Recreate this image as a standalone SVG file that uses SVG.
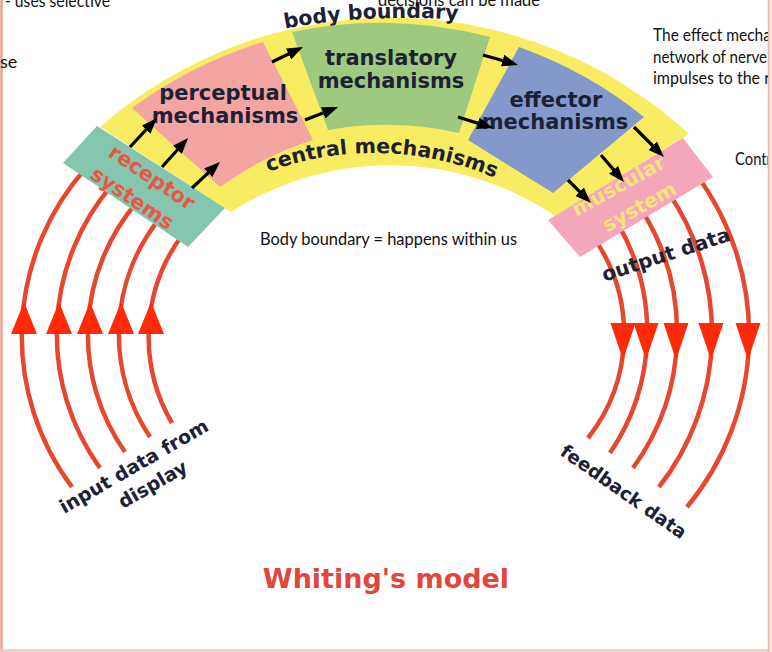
<svg xmlns="http://www.w3.org/2000/svg" width="772" height="652" viewBox="0 0 772 652">
<defs>
<style>
.blk{font-family:"DejaVu Sans",Verdana,sans-serif;font-weight:bold;}
.lbl{fill:#1d2135;font-size:21px;text-anchor:middle;}
.note{font-family:Lato,"Liberation Sans",sans-serif;font-size:18px;fill:#111;}
.curve{fill:none;stroke:#e5482f;stroke-width:4.5;}
.rhead{fill:#ff2a0a;}
.arr{stroke:#000;stroke-width:3.2;fill:none;marker-end:url(#ah);}
</style>
<marker id="ah" markerUnits="userSpaceOnUse" viewBox="0 0 16 12" markerWidth="16" markerHeight="12" refX="8" refY="6" orient="auto"><path d="M0,0 L16,6 L0,12 z" fill="#000"/></marker>
<clipPath id="clipR"><rect x="0" y="0" width="768" height="652"/></clipPath>
<path id="pBody" d="M 283 29 Q 372 12 472 21"/>
<path id="pCentral" d="M 177.3 224.6 A 306 306 0 0 1 570.7 224.6"/>
</defs>
<rect x="0" y="0" width="772" height="652" fill="#fff"/>
<g id="frame">
<line x1="1.5" y1="0" x2="1.5" y2="652" stroke="#eaa095" stroke-width="2.5"/>
<line x1="0" y1="650.5" x2="772" y2="650.5" stroke="#f0c8c0" stroke-width="2.5"/>
<rect x="768" y="0" width="4" height="652" fill="#f8e2e0"/>
<line x1="768.5" y1="0" x2="768.5" y2="652" stroke="#ebb3ad" stroke-width="1.5"/>
</g>

<g id="node-body">
<path d="M 100 127 A 441 441 0 0 1 689 134 L 555 216 A 293 293 0 0 0 231 212 Z" fill="#f8ec62"/>
<text class="blk" font-size="20.5" fill="#1d2135"><textPath href="#pBody" startOffset="2">body boundary</textPath></text>
<text class="blk" font-size="20.5" fill="#1d2135" text-anchor="middle"><textPath href="#pCentral" startOffset="221.6">central mechanisms</textPath></text>
</g>

<g id="node-perceptual">
<path d="M 132 108 A 435 435 0 0 1 263 42 L 313 140 A 323 323 0 0 0 220 187 Z" fill="#f4a4a2"/>
<text class="blk lbl" font-size="20.5" x="223" y="100">perceptual</text>
<text class="blk lbl" font-size="20.5" x="225" y="123">mechanisms</text>
</g>

<g id="node-translatory">
<path d="M 292 32 A 435 435 0 0 1 490 37 L 459 133 A 333 333 0 0 0 328 130 Z" fill="#9ec97f"/>
<text class="blk lbl" x="391" y="65">translatory</text>
<text class="blk lbl" x="391" y="88">mechanisms</text>
</g>

<g id="node-effector">
<path d="M 519 47 A 428 428 0 0 1 644 117 L 553 193 L 468 140 Z" fill="#8598cc"/>
<text class="blk lbl" x="556" y="107">effector</text>
<text class="blk lbl" x="555" y="129">mechanisms</text>
</g>

<g id="connectors">
<path class="curve" d="M 86 168 A 252 252 0 0 0 72 487"/>
<path class="curve" d="M 112 185 A 229 229 0 0 0 100 468"/>
<path class="curve" d="M 137 202 A 204 204 0 0 0 125 452"/>
<path class="curve" d="M 160 218 A 185 185 0 0 0 150 437"/>
<path class="curve" d="M 183 234 A 171 171 0 0 0 172 423"/>
<polygon class="rhead" points="24,302 11,334 37,334"/>
<polygon class="rhead" points="59,302 46,334 72,334"/>
<polygon class="rhead" points="90,302 77,334 103,334"/>
<polygon class="rhead" points="121,302 108,334 134,334"/>
<polygon class="rhead" points="151,302 138,334 164,334"/>
<path class="curve" d="M 594 238 A 168 168 0 0 1 588 438"/>
<path class="curve" d="M 618 224 A 215 215 0 0 1 610 453"/>
<path class="curve" d="M 641 209 A 230 230 0 0 1 633 468"/>
<path class="curve" d="M 668 192 A 249 249 0 0 1 659 487"/>
<path class="curve" d="M 696 174 A 270 270 0 0 1 687 507"/>
<polygon class="rhead" points="610.5,323 635.5,323 623,360"/>
<polygon class="rhead" points="633.5,323 658.5,323 646,360"/>
<polygon class="rhead" points="663.5,323 688.5,323 676,360"/>
<polygon class="rhead" points="698.5,323 723.5,323 711,360"/>
<polygon class="rhead" points="735.5,323 760.5,323 748,360"/>
</g>

<g id="node-receptor">
<polygon points="63,163 97,126 225,208 188,247" fill="#84c6ad"/>
<text class="blk" font-size="20.5" fill="#e8574a" text-anchor="middle" transform="translate(148,183) rotate(34)">receptor</text>
<text class="blk" font-size="20.5" fill="#e8574a" text-anchor="middle" transform="translate(128.5,204) rotate(34)">systems</text>
</g>

<g id="node-muscular">
<polygon points="683,138 713,177 580,257 548,220" fill="#f4a6ba"/>
<text class="blk" font-size="20" fill="#f8e27a" text-anchor="middle" transform="translate(621.7,191.8) rotate(-29)">muscular</text>
<text class="blk" font-size="20" fill="#f8e27a" text-anchor="middle" transform="translate(642.7,212.8) rotate(-29)">system</text>
</g>

<g id="arrows">
<line class="arr" x1="130" y1="147" x2="151.5" y2="123.9"/>
<line class="arr" x1="162" y1="167" x2="182.7" y2="144"/>
<line class="arr" x1="192" y1="188" x2="214.1" y2="167.4"/>
<line class="arr" x1="272" y1="62" x2="295.8" y2="50.5"/>
<line class="arr" x1="305" y1="120" x2="330.6" y2="109.9"/>
<line class="arr" x1="483" y1="55" x2="510.3" y2="62.8"/>
<line class="arr" x1="458" y1="117" x2="485.4" y2="125.6"/>
<line class="arr" x1="568" y1="180" x2="585.3" y2="197.3"/>
<line class="arr" x1="601" y1="155" x2="618.8" y2="175.9"/>
<line class="arr" x1="634" y1="127" x2="658.3" y2="151.3"/>
</g>

<g id="flow-labels" class="blk" fill="#1d2135">
<text font-size="19" text-anchor="middle" transform="translate(137,472) rotate(-30)">input data from</text>
<text font-size="19" text-anchor="middle" transform="translate(156,490) rotate(-30)">display</text>
<text font-size="20" text-anchor="middle" transform="translate(668,261) rotate(-18)">output data</text>
<text font-size="18.5" text-anchor="middle" transform="translate(620,497) rotate(35)">feedback data</text>
</g>

<text id="title" class="blk" font-size="27" fill="#e2453c" x="386" y="588" text-anchor="middle">Whiting's model</text>

<g id="notes" class="note" clip-path="url(#clipR)">
<text x="5" y="6.5" textLength="105" lengthAdjust="spacingAndGlyphs">- uses selective</text>
<text x="0" y="68">se</text>
<text x="378" y="6" textLength="162" lengthAdjust="spacingAndGlyphs">decisions can be made</text>
<text x="260" y="245" textLength="257" lengthAdjust="spacingAndGlyphs">Body boundary = happens within us</text>
<text x="653" y="41" textLength="118" lengthAdjust="spacingAndGlyphs">The effect mecha</text>
<text x="653" y="62.5" textLength="114" lengthAdjust="spacingAndGlyphs">network of nerve</text>
<text x="653" y="83.5" textLength="117" lengthAdjust="spacingAndGlyphs">impulses to the r</text>
<text x="735" y="165" textLength="37" lengthAdjust="spacingAndGlyphs">Contr</text>
</g>
</svg>
